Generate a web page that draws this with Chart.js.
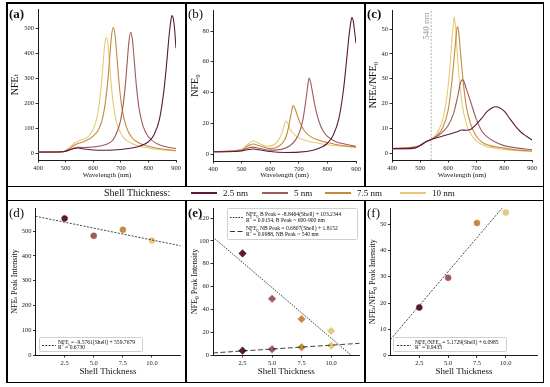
<!DOCTYPE html>
<html>
<head>
<meta charset="utf-8">
<script src="https://cdn.jsdelivr.net/npm/chart.js@4.4.0/dist/chart.umd.min.js"></script>
<style>
  body { margin: 0; background: #fff; width: 550px; height: 387px; position: relative; overflow: hidden;
         font-family: "Liberation Serif", "DejaVu Serif", serif; color: #111; }
  canvas { position: absolute; }
  .ln { position: absolute; background: #000; }
  .plabel { position: absolute; font-size: 13px; line-height: 13px; }
  .lg { position: absolute; background: rgba(255,255,255,0.85); border: 0.6px solid #cfcfcf; border-radius: 1.5px; box-sizing: border-box; }
  .lg .tx { position: absolute; font-size: 5.6px; line-height: 5.6px; white-space: nowrap; }
  .lg svg { position: absolute; }
  sub, sup { font-size: 70%; line-height: 0; }
  #shellLegend span { position: absolute; white-space: nowrap; }
</style>
</head>
<body>
<div class="ln" style="left:6px;top:2px;width:538px;height:1.5px"></div>
<div class="ln" style="left:6px;top:381.5px;width:538px;height:1.5px"></div>
<div class="ln" style="left:6px;top:2px;width:1.5px;height:381px"></div>
<div class="ln" style="left:542.5px;top:2px;width:1.5px;height:381px"></div>
<div class="ln" style="left:6px;top:185.5px;width:538px;height:1.5px"></div>
<div class="ln" style="left:6px;top:199.5px;width:538px;height:1.5px"></div>
<div class="ln" style="left:185px;top:2px;width:1.5px;height:185px"></div>
<div class="ln" style="left:364px;top:2px;width:1.5px;height:185px"></div>
<div class="ln" style="left:185px;top:200px;width:1.5px;height:183px"></div>
<div class="ln" style="left:364px;top:200px;width:1.5px;height:183px"></div>

<canvas id="chartA" width="177" height="182" style="left:8px;top:3px"></canvas>
<canvas id="chartB" width="177" height="182" style="left:187px;top:3px"></canvas>
<canvas id="chartC" width="176" height="182" style="left:366px;top:3px"></canvas>
<canvas id="chartD" width="177" height="180" style="left:8px;top:201px"></canvas>
<canvas id="chartE" width="177" height="180" style="left:187px;top:201px"></canvas>
<canvas id="chartF" width="176" height="180" style="left:366px;top:201px"></canvas>

<div class="plabel" style="left:9px;top:7px;font-weight:bold">(a)</div>
<div class="plabel" style="left:188px;top:7px">(b)</div>
<div class="plabel" style="left:367px;top:7px;font-weight:bold">(c)</div>
<div class="plabel" style="left:9px;top:206px">(d)</div>
<div class="plabel" style="left:188px;top:206px;font-weight:bold">(e)</div>
<div class="plabel" style="left:367px;top:206px">(f)</div>

<div style="position:absolute;left:426px;top:26px;transform:translate(-50%,-50%) rotate(-90deg);font-size:9px;color:#9a9a9a;white-space:nowrap">540 nm</div>

<div id="shellLegend" style="position:absolute;left:0;top:186px;width:550px;height:14px;font-size:9px;line-height:14px"></div>

<div class="lg" style="left:39px;top:337px;width:104px;height:15px">
  <svg width="14" height="3" style="left:2px;top:5.5px"><line x1="0" y1="1.5" x2="14" y2="1.5" stroke="#000" stroke-width="0.8" stroke-dasharray="2 1.3"/></svg>
  <div class="tx" style="left:18px;top:1.5px">NFE<sub>t</sub> = -9.5761(Shell) + 559.7679<br>R<sup>2</sup> = 0.6730</div>
</div>
<div class="lg" style="left:227px;top:208px;width:131px;height:32px">
  <svg width="13" height="3" style="left:2px;top:7px"><line x1="0" y1="1.5" x2="13" y2="1.5" stroke="#000" stroke-width="0.8" stroke-dasharray="1.6 1.2"/></svg>
  <div class="tx" style="left:18px;top:3px">NFE<sub>0</sub> B Peak = -8.8464(Shell) + 103.2344<br>R<sup>2</sup> = 0.9154, B Peak ~ 600-900 nm</div>
  <svg width="13" height="3" style="left:2px;top:21px"><line x1="0" y1="1.5" x2="13" y2="1.5" stroke="#000" stroke-width="0.8" stroke-dasharray="5 2.5"/></svg>
  <div class="tx" style="left:18px;top:17px">NFE<sub>0</sub> NB Peak = 0.6807(Shell) + 1.8152<br>R<sup>2</sup> = 0.9988, NB Peak ~ 540 nm</div>
</div>
<div class="lg" style="left:393px;top:337px;width:114px;height:15px">
  <svg width="14" height="3" style="left:3px;top:5.5px"><line x1="0" y1="1.5" x2="14" y2="1.5" stroke="#000" stroke-width="0.8" stroke-dasharray="2 1.3"/></svg>
  <div class="tx" style="left:21px;top:1.5px">NFE<sub>t</sub>/NFE<sub>0</sub> = 5.1729(Shell) + 6.0985<br>R<sup>2</sup> = 0.9433</div>
</div>

<script>
const FONT = '"Liberation Serif", "DejaVu Serif", "DejaVu Sans", serif';

// shells
const shellLabels = ['2.5 nm', '5 nm', '7.5 nm', '10 nm'];
const shellValues = [2.5, 5.0, 7.5, 10.0];
const shellColors = ['#5a1a3c', '#a05a5a', '#c48a3e', '#e7c97a'];

// tick labels
const wavelengthTicks = [400, 500, 600, 700, 800, 900];
const shellTicks = [2.5, 5.0, 7.5, 10.0];
const aTicks = [0, 100, 200, 300, 400, 500];
const bTicks = [0, 20, 40, 60, 80];
const cTicks = [0, 10, 20, 30, 40, 50];
const dTicks = [0, 100, 200, 300, 400, 500];
const eTicks = [0, 20, 40, 60, 80, 100, 120];
const fTicks = [0, 10, 20, 30, 40, 50];

// (a) NFE_t spectra, [wavelength nm, value]
const a25 = [[400,4],[450,4],[490,5],[510,10],[530,18],[545,20],[560,17],[600,12],[650,11],[700,14],[740,20],[770,28],[800,45],[820,72],[840,135],[855,240],[865,345],[875,470],[882,535],[886,551],[890,540],[895,495],[900,420]];
const a5 = [[400,4],[490,5],[510,12],[530,20],[545,23],[560,22],[600,24],[640,32],[670,50],[690,95],[700,135],[710,205],[718,292],[724,375],[730,452],[736,484],[742,455],[748,380],[756,275],[766,180],[780,110],[800,65],[830,38],[860,26],[900,18]];
const a75 = [[400,3],[490,5],[510,15],[530,30],[550,40],[570,47],[600,68],[620,95],[635,145],[645,210],[653,290],[660,385],[667,475],[673,504],[679,475],[686,385],[695,265],[705,175],[720,105],[740,62],[770,38],[800,27],[850,16],[900,10]];
const a10 = [[400,3],[490,5],[510,18],[530,38],[550,50],[570,57],[590,75],[605,110],[615,150],[625,225],[632,305],[638,390],[643,445],[648,464],[653,440],[658,378],[664,292],[671,212],[681,140],[691,100],[710,62],[740,38],[780,24],[830,15],[900,8]];

// (b) NFE_0 spectra
const b25 = [[400,1.5],[450,1.5],[500,2],[520,2.8],[540,3.3],[560,2.8],[600,1.6],[650,1],[700,1.2],[750,2.5],[780,4.5],[800,7],[820,12],[840,23],[855,40],[865,57],[875,76],[882,86],[886,89],[890,87],[895,80],[900,72]];
const b5 = [[400,1.5],[500,2.3],[520,3.8],[540,4.5],[560,3.8],[600,2.5],[640,3],[670,5.5],[690,9.5],[705,15.5],[715,23],[724,34],[731,44],[736,49.5],[741,47],[748,40],[758,30],[770,21.5],[785,15],[800,11.5],[830,8],[860,6.5],[900,5]];
const b75 = [[400,1.5],[500,2.5],[520,5],[540,6.5],[560,5.5],[600,3.5],[630,5],[650,9],[660,14],[668,21],[674,27],[680,31.5],[686,30],[695,25],[705,20],[720,15],[740,11.5],[770,9],[800,7.5],[850,5.5],[900,4.5]];
const b10 = [[400,1.5],[500,3],[520,6],[540,8.5],[560,7],[590,5],[620,7],[635,11],[645,16],[650,19.5],[655,21.5],[660,20.5],[668,17],[680,13.5],[700,10.5],[730,8.5],[770,7],[820,5.5],[900,4.5]];

// (c) NFE_t / NFE_0 spectra
const c25 = [[400,1.8],[450,1.8],[480,2],[500,3],[520,4.5],[540,5.5],[570,6.5],[600,7.5],[630,8.5],[650,9.3],[665,9.2],[680,9.5],[700,11.5],[720,14],[740,16.8],[760,18.4],[770,18.7],[780,18.5],[800,17],[820,14],[840,11],[860,8.5],[880,6.8],[900,5.3]];
const c5 = [[400,1.8],[480,2],[500,3],[520,4.5],[540,5.5],[570,7.5],[600,11],[620,16],[635,23],[645,28.5],[650,29.5],[655,29.3],[665,26],[680,21],[700,14],[720,9],[740,6.5],[760,5],[800,3],[850,2],[900,1.3]];
const c75 = [[400,1.8],[500,3],[520,4.5],[540,5.5],[560,7],[580,10],[600,17],[610,25],[620,36],[628,46],[633,51],[638,49],[645,40],[655,28],[665,19],[680,12],[700,7],[720,4.5],[750,3],[800,2],[850,1.2],[900,0.8]];
const c10 = [[400,1.8],[500,3],[520,4.5],[540,5.5],[560,8],[580,13],[595,22],[605,32],[613,44],[619,52],[622,55],[626,52],[632,42],[640,30],[650,20],[665,12],[680,8],[700,5],[730,3],[780,1.8],[850,1],[900,0.7]];
const markerWavelength = 540;

// peak intensities vs shell thickness
const peakNfeT = [551, 481, 505, 462];
const peakNfe0B = [89, 49.3, 31.5, 21];
const peakNfe0NB = [3.8, 5.0, 6.8, 8.2];
const peakRatio = [18.3, 29.6, 50.5, 54.5];

// linear fits [slope, intercept]
const fitNfeT = [-9.5761, 559.7679];
const fitNfe0B = [-8.8464, 103.2344];
const fitNfe0NB = [0.6807, 1.8152];
const fitRatio = [5.1729, 6.0985];
const fitRange = [0, 12.8];

// shell legend strip
const legendStrip = document.getElementById('shellLegend');
legendStrip.innerHTML = '<span style="left:104px;font-size:10px">Shell Thickness:</span>';
const stripX = [191, 262, 325, 400];
shellLabels.forEach((lab, i) => {
  legendStrip.innerHTML += `<span style="left:${stripX[i]}px;top:5.5px;width:26px;height:2.5px;background:${shellColors[i]}"></span>` +
    `<span style="left:${stripX[i] + 32}px">${lab}</span>`;
});

function axis(o) {
  return {
    type: 'linear',
    min: o.min,
    max: o.max,
    afterBuildTicks: s => { s.ticks = o.ticks.map(v => ({ value: v })); },
    afterFit: s => { if (o.w != null) s.width = o.w; if (o.h != null) s.height = o.h; },
    ticks: { font: { family: FONT, size: 6.5 }, color: '#222', padding: 1.5, autoSkip: false, maxRotation: 0,
             callback: o.fmt || (v => v) },
    grid: { drawOnChartArea: false, tickLength: 2.5, color: '#000', lineWidth: 0.8 },
    border: { color: '#000', width: 0.9 },
    title: { display: true, text: o.title, color: '#111', font: { family: FONT, size: o.titleSize }, padding: o.titlePad }
  };
}

function baseOptions(x, y, pad) {
  return {
    responsive: false,
    animation: false,
    devicePixelRatio: 1,
    layout: { padding: { left: 0, right: pad.r, top: pad.t, bottom: 0 } },
    scales: { x: x, y: y },
    plugins: { legend: { display: false }, tooltip: { enabled: false } }
  };
}

function curve(points, color) {
  return {
    data: points.map(p => ({ x: p[0], y: p[1] })),
    borderColor: color, borderWidth: 1.1, pointRadius: 0, showLine: true,
    cubicInterpolationMode: 'monotone', fill: false
  };
}

function spectrum(id, curves, yMin, yMax, yTicks, yTitle, g, extra) {
  const datasets = curves.map((c, i) => curve(c, shellColors[i]));
  if (extra) datasets.push(extra);
  new Chart(document.getElementById(id), {
    type: 'scatter',
    data: { datasets },
    options: baseOptions(
      axis({ min: 400, max: 900, ticks: wavelengthTicks, h: g.h, title: 'Wavelength (nm)', titleSize: 7, titlePad: { top: 0, bottom: 5.8 } }),
      axis({ min: yMin, max: yMax, ticks: yTicks, w: g.w, title: yTitle, titleSize: 10, titlePad: { top: g.tp, bottom: 0 } }),
      g)
  });
}

spectrum('chartA', [a25, a5, a75, a10], -28, 577, aTicks, 'NFE\u209C', { w: 30, h: 25, r: 9, t: 6, tp: 1 });
spectrum('chartB', [b25, b5, b75, b10], -4.55, 93.7, bTicks, 'NFE\u2080', { w: 26, h: 24, r: 8, t: 7, tp: 2 });
spectrum('chartC', [c25, c5, c75, c10], -2.8, 57.7, cTicks, 'NFE\u209C/NFE\u2080', { w: 26, h: 25, r: 10, t: 7, tp: 1 },
  { data: [{ x: markerWavelength, y: -2.8 }, { x: markerWavelength, y: 57.7 }], borderColor: '#a0a0a0', borderWidth: 0.8,
    borderDash: [2, 1.5], pointRadius: 0, showLine: true });

function fitLine(fit, dash) {
  return {
    data: fitRange.map(x => ({ x: x, y: fit[0] * x + fit[1] })),
    borderColor: '#111', borderWidth: 0.8, borderDash: dash, pointRadius: 0, showLine: true
  };
}

function peakPoints(values, style, r) {
  return {
    data: shellValues.map((s, i) => ({ x: s, y: values[i] })),
    pointStyle: style, pointRadius: r, pointBackgroundColor: shellColors, pointBorderColor: shellColors,
    pointBorderWidth: 0.5, showLine: false
  };
}

function peakChart(id, datasets, xMax, yMax, yTicks, yTitle, g) {
  new Chart(document.getElementById(id), {
    type: 'scatter',
    data: { datasets },
    options: baseOptions(
      axis({ min: 0, max: xMax, ticks: shellTicks, h: g.h, fmt: v => v.toFixed(1), title: 'Shell Thickness', titleSize: 9, titlePad: { top: 0, bottom: 3.6 } }),
      axis({ min: 0, max: yMax, ticks: yTicks, w: g.w, title: yTitle, titleSize: 8, titlePad: { top: g.tp, bottom: 0 } }),
      g)
  });
}

peakChart('chartD', [fitLine(fitNfeT, [2, 1.5]), peakPoints(peakNfeT, 'circle', 3)],
  12.45, 593, dTicks, 'NFE\u209C Peak Intensity', { w: 27.5, h: 26, r: 3, t: 7, tp: 2.2 });
peakChart('chartE', [fitLine(fitNfe0B, [1.6, 1.2]), fitLine(fitNfe0NB, [5, 2.5]),
  peakPoints(peakNfe0B, 'rectRot', 3.8), peakPoints(peakNfe0NB, 'rectRot', 3.8)],
  12.4, 128.8, eTicks, 'NFE\u2080 Peak Intensity', { w: 26, h: 26, r: 4, t: 7, tp: 3.2 });
peakChart('chartF', [fitLine(fitRatio, [2, 1.5]), peakPoints(peakRatio, 'circle', 3)],
  12.75, 56.2, fTicks, 'NFE\u209C/NFE\u2080 Peak Intensity', { w: 24.5, h: 25.5, r: 1, t: 7, tp: 2.2 });
</script>
</body>
</html>
